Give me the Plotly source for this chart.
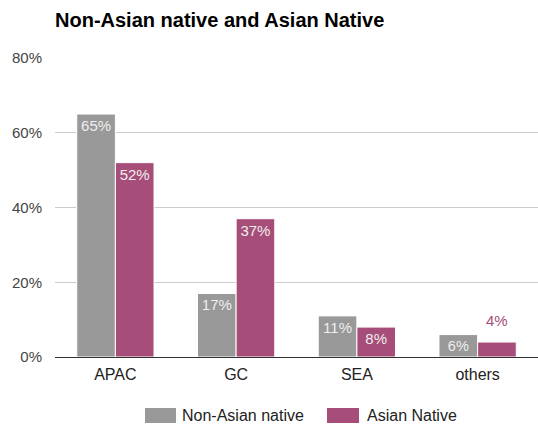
import plotly.graph_objects as go

categories = ["APAC", "GC", "SEA", "others"]
non_asian_native = [65, 17, 11, 6]
asian_native = [52, 37, 8, 4]
y_ticks = [0, 20, 40, 60, 80]
series_names = ["Non-Asian native", "Asian Native"]

GRAY = "#999999"
MAGENTA = "#a64d79"
LABEL_LIGHT = "#eeeeee"
FONT = "Liberation Sans, Arial, sans-serif"

W, H = 538, 426
M_L, M_R, M_T, M_B = 55, 0, 58, 69
PLOT_W = W - M_L - M_R
PLOT_H = H - M_T - M_B


def px_x(px):
    """Pixel column -> paper x."""
    return (px - M_L) / PLOT_W


def px_y(py):
    """Pixel row -> paper y."""
    return (H - M_B - py) / PLOT_H


MIN_INSIDE = 5  # values below this get their label above the bar


def inside_text(vals):
    return [f"{v}%" if v >= MIN_INSIDE else "" for v in vals]


fig = go.Figure()
series = [(series_names[0], non_asian_native, GRAY),
          (series_names[1], asian_native, MAGENTA)]
for name, vals, color in series:
    fig.add_trace(go.Bar(
        name=name,
        x=categories,
        y=vals,
        marker=dict(color=color, line=dict(color="white", width=1)),
        text=inside_text(vals),
        textposition="inside",
        insidetextanchor="end",
        insidetextfont=dict(color=LABEL_LIGHT, size=15, family=FONT),
        showlegend=False,
    ))

# Labels for short bars sit above the bar, in the series colour
annotations = []
bar_offset = 19  # half a bar width, pixels, from the category centre
for i, (name, vals, color) in enumerate(series):
    shift = -bar_offset if i == 0 else bar_offset
    for cat, v in zip(categories, vals):
        if v < MIN_INSIDE:
            annotations.append(dict(
                x=cat, y=v, xref="x", yref="y",
                text=f"{v}%", showarrow=False,
                xshift=shift, yshift=22, yanchor="middle",
                font=dict(color=color, size=15, family=FONT),
            ))

# Legend: wide colour swatches with labels, centred under the plot
legend_items = [
    (series_names[0], GRAY, 145, 176, 180),
    (series_names[1], MAGENTA, 327, 359, 365),
]
shapes = []
for name, color, sx0, sx1, tx in legend_items:
    shapes.append(dict(
        type="rect", xref="paper", yref="paper",
        x0=px_x(sx0), x1=px_x(sx1), y0=px_y(423), y1=px_y(408),
        fillcolor=color, line=dict(width=0),
    ))
    annotations.append(dict(
        x=px_x(tx), y=px_y(415.5), xref="paper", yref="paper",
        text=name, showarrow=False, xanchor="left", yanchor="middle",
        font=dict(color="#222222", size=16, family=FONT),
    ))

fig.update_layout(
    width=W,
    height=H,
    margin=dict(l=M_L, r=M_R, t=M_T, b=M_B, autoexpand=False),
    paper_bgcolor="white",
    plot_bgcolor="white",
    barmode="group",
    bargap=0.36,
    bargroupgap=0.0,
    font=dict(family=FONT, color="#444444", size=14),
    title=dict(
        text="<b>Non-Asian native and Asian Native</b>",
        x=55 / W,
        xanchor="left",
        y=1 - 20 / H,
        yanchor="middle",
        font=dict(size=20, color="#000000", family=FONT),
    ),
    xaxis=dict(
        showgrid=False,
        showline=False,
        ticks="",
        automargin=False,
        ticklabelstandoff=6,
        tickfont=dict(size=16, color="#222222"),
    ),
    yaxis=dict(
        range=[0, 80],
        tickvals=y_ticks,
        ticktext=[f"{v}%" for v in y_ticks],
        showgrid=True,
        gridcolor="#cccccc",
        gridwidth=1,
        zeroline=True,
        zerolinecolor="#333333",
        zerolinewidth=1,
        showline=False,
        ticks="",
        automargin=False,
        ticklabelstandoff=12,
        tickfont=dict(size=15, color="#444444"),
    ),
    shapes=shapes,
    annotations=annotations,
)

fig.write_html("out.html")
